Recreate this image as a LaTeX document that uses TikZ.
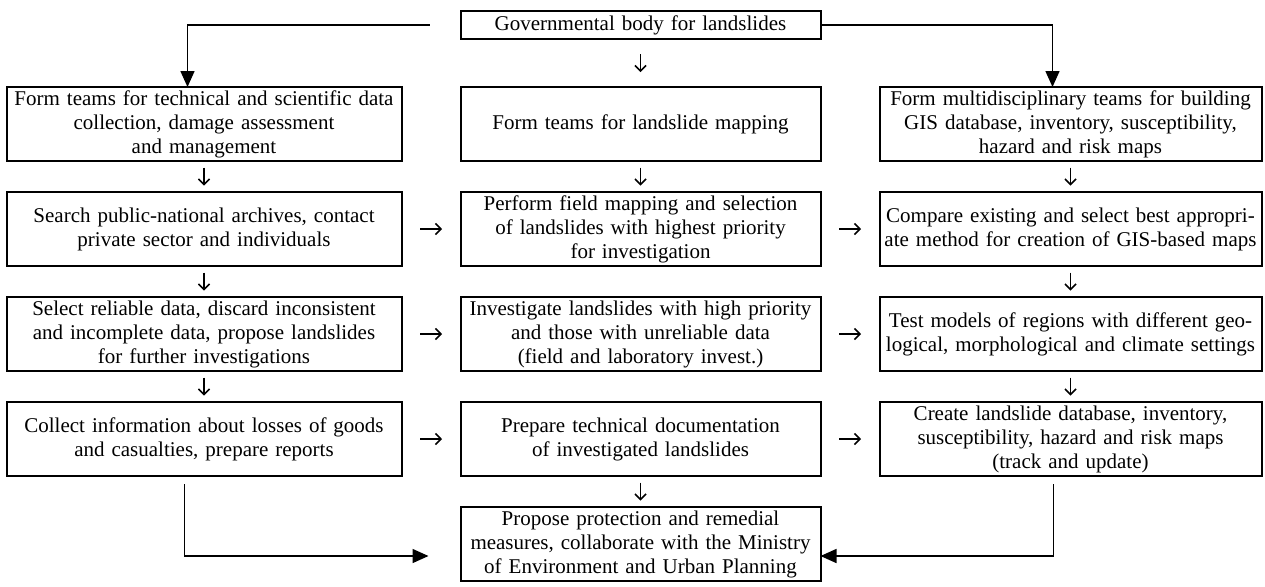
\documentclass[tikz,border=0pt]{standalone}
\usepackage{fontspec}
\setmainfont{Liberation Serif}
\usetikzlibrary{arrows.meta,positioning}

\begin{document}
\begin{tikzpicture}[node distance=15.5pt and 29.5pt,
  every node/.style={font=\fontsize{10.5}{12}\selectfont},
  box/.style={draw,line width=1pt,align=center,minimum height=37pt,inner xsep=2pt,inner ysep=1pt,outer sep=0pt},
  lft/.style={box,text width=193.5pt},
  mid/.style={box,text width=176pt},
  rgt/.style={box,text width=187pt},
  small/.style={line width=0.8pt,-{Straight Barb[length=2.7pt,width=5.5pt]}},
  vsm/.style={small,shorten <=3.25pt,shorten >=3.25pt},
  hsm/.style={small,shorten <=9.25pt,shorten >=9.25pt},
  big/.style={line width=0.75pt,-{Triangle[length=8pt,width=7pt]}}]
\useasboundingbox (0,0) rectangle (632.5pt,-293pt);
\node[mid,minimum height=14pt] (gov) at (320.25pt,-12.5pt) {Governmental body for landslides};
\node[mid,below=24pt of gov] (map) {Form teams for landslide mapping};
\node[lft,left=of map] (tech) {Form teams for technical and scientific data\\ collection, damage assessment\\ and management};
\node[rgt,right=of map] (gis) {Form multidisciplinary teams for building\\ GIS database, inventory, susceptibility,\\ hazard and risk maps};
\node[mid,below=of map] (field) {Perform field mapping and selection\\ of landslides with highest priority\\ for investigation};
\node[lft,left=of field] (search) {Search public-national archives, contact\\ private sector and individuals};
\node[rgt,right=of field] (compare) {Compare existing and select best appropri-\\ ate method for creation of GIS-based maps};
\node[mid,below=of field] (invest) {Investigate landslides with high priority\\ and those with unreliable data\\ (field and laboratory invest.)};
\node[lft,left=of invest] (select) {Select reliable data, discard inconsistent\\ and incomplete data, propose landslides\\ for further investigations};
\node[rgt,right=of invest] (test) {Test models of regions with different geo-\\ logical, morphological and climate settings};
\node[mid,below=of invest] (docs) {Prepare technical documentation\\ of investigated landslides};
\node[lft,left=of docs] (collect) {Collect information about losses of goods\\ and casualties, prepare reports};
\node[rgt,right=of docs] (create) {Create landslide database, inventory,\\ susceptibility, hazard and risk maps\\ (track and update)};
\node[mid,below=of docs] (propose) {Propose protection and remedial\\ measures, collaborate with the Ministry\\ of Environment and Urban Planning};

\draw[small,shorten <=7.5pt,shorten >=7.5pt] (gov) -- (map);
\draw[big,shorten <=15.5pt] (gov.west) -| ([xshift=-8.25pt]tech.north);
\draw[big] (gov.east) -| ([xshift=-9pt]gis.north);
\draw[vsm] (tech) -- (search);
\draw[vsm] (map) -- (field);
\draw[vsm] (gis) -- (compare);
\draw[vsm] (search) -- (select);
\draw[vsm] (compare) -- (test);
\draw[vsm] (select) -- (collect);
\draw[vsm] (test) -- (create);
\draw[vsm] (docs) -- (propose);
\draw[hsm] (search) -- (field);
\draw[hsm] (field) -- (compare);
\draw[hsm] (select) -- (invest);
\draw[hsm] (invest) -- (test);
\draw[hsm] (collect) -- (docs);
\draw[hsm] (docs) -- (create);
\draw[big,shorten <=4pt,shorten >=16pt] ([xshift=-9.75pt]collect.south) |- ([yshift=-6pt]propose.west);
\draw[big,shorten <=4pt] ([xshift=-8.5pt]create.south) |- ([yshift=-6pt]propose.east);
\end{tikzpicture}
\end{document}
